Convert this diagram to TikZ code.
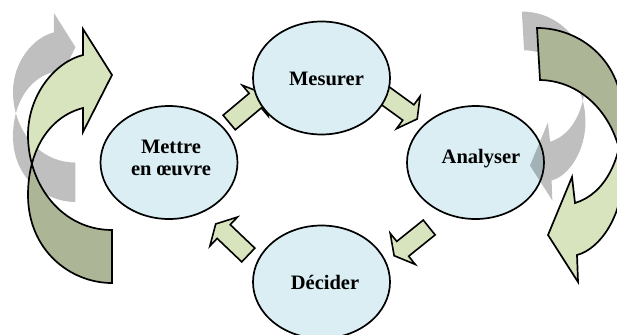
\documentclass[tikz,border=0pt]{standalone}
\usepackage{fontspec}
\setmainfont{Liberation Serif}
\usetikzlibrary{shapes.geometric}

\definecolor{bubblefill}{HTML}{DAEEF3}
\definecolor{leaf}{HTML}{D7E4BD}
\definecolor{leafdark}{HTML}{ACB697}

% Outline of the curled ribbon arrow on the left (tail bottom right, head top right)
\newcommand\leftcurl{(83,55) .. controls (55,62) and (28,95) .. (28,135)
  .. controls (28,185) and (62,230) .. (112,230) -- (112,283)
  .. controls (70,283) and (28,250) .. (28,195)
  .. controls (28,152) and (48,117) .. (83,108)
  -- (83,132) -- (112,75) -- (83,29) -- cycle}

% Outline of the curled ribbon arrow on the right (tail top left, head bottom left)
\newcommand\rightcurl{(575,203) .. controls (605,194) and (622.5,159) .. (622.5,116)
  .. controls (622.5,61) and (580.5,28) .. (537,28) -- (540,80)
  .. controls (588.5,81) and (622.5,126) .. (622.5,176)
  .. controls (622.5,216) and (600,249) .. (577,255)
  -- (578,282) -- (548,235) -- (572,177) -- cycle}

\tikzset{
  bubble/.style={ellipse, draw=black, line width=1.7pt, fill=bubblefill,
    minimum width=137pt, minimum height=113pt, inner sep=0pt},
  word/.style={inner sep=0pt, font=\fontsize{20.5}{22}\selectfont\bfseries, align=center},
  chunk/.style={draw=black, line width=1.6pt, fill=leaf, line join=miter},
  curlline/.style={draw=black, line width=1.7pt, line join=miter},
  curlshade/.style={fill=black, fill opacity=0.25},
}

% block arrow: tail middle at #1, pointing at angle #2
\newcommand\chunkarrow[2]{%
  \begin{scope}[shift={(#1)}, rotate=#2]
    \draw[chunk] (0,-9.5) -- (34,-9.5) -- (34,-20) -- (45,0) -- (34,20) -- (34,9.5) -- (0,9.5) -- cycle;
  \end{scope}}

\begin{document}
\begin{tikzpicture}[x=1pt,y=-1pt]
\useasboundingbox (0,0) rectangle (617,334);

% tails of the four block arrows of the cycle
\coordinate (t1) at (229.2,122.5);
\coordinate (t2) at (380.8,92.5);
\coordinate (t3) at (429.2,227.5);
\coordinate (t4) at (248.3,255);
\chunkarrow{t1}{40}
\chunkarrow{t2}{-36}
\chunkarrow{t3}{-141.2}
\chunkarrow{t4}{136.4}

% the four stages
\node[bubble] (mesurer) at (321.5,78) {};
\node[bubble] (analyser) at (475.5,162.5) {};
\node[bubble] (decider) at (321.5,282) {};
\node[bubble] (mettre) at (169,162.5) {};

\node[word, anchor=base] (mesurer-txt) at (326.5,85) {Mesurer};
\node[word, anchor=base] (analyser-txt) at (481,163) {Analyser};
\node[word, anchor=base] (decider-txt) at (325,289) {Décider};
\node[word, anchor=north] (mettre-txt) at (171,139.5) {Mettre\\en œuvre};

% soft shadows of the curled arrows
\fill[curlshade, shift={(-7.83,-8.58)}, scale=0.744] \leftcurl;
\fill[curlshade, shift={(122.3,-9.3)}, scale=0.744] \rightcurl;

% left curled arrow: front face light, back face darker
\fill[leaf] \leftcurl;
\begin{scope}
  \clip (0,164) rectangle (200,334);
  \fill[leafdark] \leftcurl;
\end{scope}
\draw[curlline] \leftcurl;

% right curled arrow
\fill[leaf] \rightcurl;
\begin{scope}
  \clip (500,0) rectangle (640,146);
  \fill[leafdark] \rightcurl;
\end{scope}
\draw[curlline] \rightcurl;
\end{tikzpicture}
\end{document}
